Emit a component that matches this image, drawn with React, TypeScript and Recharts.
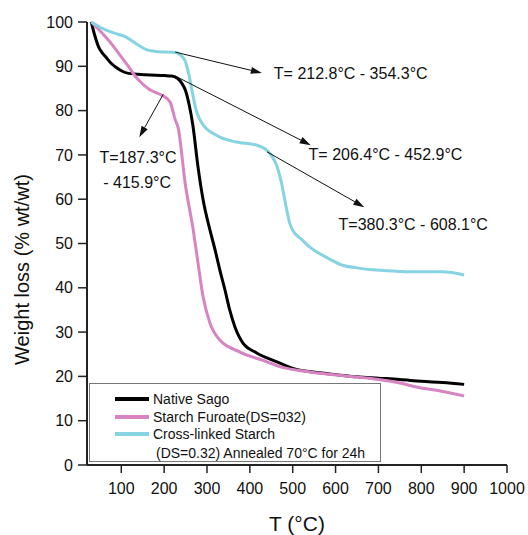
import { LineChart, Line, XAxis, YAxis, ReferenceLine, ReferenceDot, Legend } from "recharts";

const FONT = '"Liberation Sans", Arial, Helvetica, sans-serif';

// temperature (°C) / weight (% wt/wt)
const sagoTemp = [30, 38, 47, 55, 63, 75, 86, 100, 117, 156, 200, 218, 232, 241, 250, 258, 267, 279, 291, 307, 319, 330, 342, 353, 365, 384, 416, 463, 500, 563, 600, 650, 700, 750, 800, 850, 900];
const sagoWeight = [100, 97.0, 94.4, 93.1, 92.2, 90.8, 89.9, 89.0, 88.4, 88.1, 87.9, 87.8, 87.2, 86.2, 84.5, 81.5, 76.7, 67.3, 59.8, 53.0, 48.5, 44.0, 39.5, 35.0, 31.2, 27.5, 25.3, 23.3, 21.8, 20.8, 20.4, 19.9, 19.6, 19.3, 18.9, 18.6, 18.2];

const furoateTemp = [30, 55, 75, 94, 115, 133, 150, 165, 187, 200, 214, 226, 233, 249, 268, 279, 291, 307, 330, 377, 440, 470, 524, 600, 679, 709, 750, 788, 850, 900];
const furoateWeight = [100, 97.5, 95.3, 92.9, 90.2, 87.7, 86.0, 84.8, 83.8, 83.2, 81.9, 77.9, 76.0, 63.6, 53.0, 45.6, 37.9, 32.0, 28.2, 25.5, 23.3, 22.2, 21.2, 20.3, 19.6, 19.2, 18.5, 17.6, 16.6, 15.6];

const crossTemp = [30, 63, 90, 109, 133, 160, 187, 226, 237, 249, 258, 265, 275, 288, 300, 319, 330, 369, 416, 440, 453, 463, 474, 486, 493, 500, 520, 540, 580, 616, 650, 695, 750, 788, 850, 900];
const crossWeight = [100, 98.2, 97.3, 96.7, 95.2, 93.7, 93.3, 93.1, 92.6, 91.2, 88.0, 84.5, 80.0, 77.2, 75.8, 74.6, 74.0, 72.9, 72.2, 71.0, 69.5, 67.5, 63.6, 57.6, 54.6, 53.0, 51.0, 49.2, 46.8, 45.1, 44.5, 44.0, 43.7, 43.6, 43.6, 42.9];

const seriesNames = ["Native Sago", "Starch Furoate(DS=032)", "Cross-linked Starch"];
const seriesColors = ["#000000", "#d884c2", "#86d4e2"];
const legendNote = "(DS=0.32) Annealed 70°C for 24h";

const xMajor = [100, 200, 300, 400, 500, 600, 700, 800, 900, 1000];
const xMinor = [50, 150, 250, 350, 450, 550, 650, 750, 850, 950];
const yMajor = [0, 10, 20, 30, 40, 50, 60, 70, 80, 90, 100];
const yMinor = [5, 15, 25, 35, 45, 55, 65, 75, 85, 95];

// arrows: [tempFrom, weightFrom, tempTo, weightTo]
const arrows = [
  [226, 93.2, 428, 88.5],
  [226, 87.8, 542, 72.2],
  [440, 70.7, 667, 58.2],
  [198, 83.7, 142, 74.0],
];

// annotation text: temp, weight, anchor
const notes: [number, number, "start" | "middle", string][] = [
  [456, 88.3, "start", "T= 212.8°C - 354.3°C"],
  [537, 70.0, "start", "T= 206.4°C - 452.9°C"],
  [607, 54.2, "start", "T=380.3°C - 608.1°C"],
  [139, 69.5, "middle", "T=187.3°C"],
  [137, 63.7, "middle", "- 415.9°C"],
];

const toRows = (t: number[], w: number[]) => t.map((x, i) => ({ t: x, w: w[i] }));
const seriesData = [toRows(sagoTemp, sagoWeight), toRows(furoateTemp, furoateWeight), toRows(crossTemp, crossWeight)];

const AXIS = "#222";

function ArrowShape(props: any) {
  const { x1, y1, x2, y2 } = props;
  const ang = Math.atan2(y2 - y1, x2 - x1);
  const len = 11;
  const half = 3.5;
  const bx = x2 - len * Math.cos(ang);
  const by = y2 - len * Math.sin(ang);
  const px = -Math.sin(ang) * half;
  const py = Math.cos(ang) * half;
  return (
    <g>
      <line x1={x1} y1={y1} x2={bx} y2={by} stroke="#111" strokeWidth={1} />
      <polygon points={`${x2},${y2} ${bx + px},${by + py} ${bx - px},${by - py}`} fill="#111" />
    </g>
  );
}

function YTitle(props: any) {
  const vb = props.viewBox || { x: 0, y: 22, width: 87, height: 443 };
  const cx = vb.x + 22;
  const cy = vb.y + vb.height / 2 + 26;
  return (
    <text x={cx} y={cy} transform={`rotate(-90 ${cx} ${cy})`} textAnchor="middle" dominantBaseline="central"
      fontFamily={FONT} fontSize={20} fill="#111">
      Weight loss (% wt/wt)
    </text>
  );
}

function XTitle(props: any) {
  const vb = props.viewBox || { x: 87, y: 465, width: 420, height: 70 };
  return (
    <text x={vb.x + vb.width / 2} y={vb.y + 66} textAnchor="middle" fontFamily={FONT} fontSize={21} fill="#111">
      T (°C)
    </text>
  );
}

// legend keeps the original order of the series (payload comes sorted)
function LegendBox() {
  const rowY = [15, 33, 50];
  return (
    <div style={{ position: "relative", width: 292, height: 79, boxSizing: "border-box", border: "1.5px solid #777",
      background: "#fff", fontFamily: FONT, fontSize: 14, color: "#111" }}>
      {seriesNames.map((name, i) => (
        <div key={name} style={{ position: "absolute", left: 25, top: rowY[i] - 9, height: 18, display: "flex", alignItems: "center" }}>
          <span style={{ display: "inline-block", width: 34, height: 3.5, background: seriesColors[i], marginRight: 4 }} />
          <span style={{ whiteSpace: "nowrap" }}>{name}</span>
        </div>
      ))}
      <div style={{ position: "absolute", left: 66, top: 60, height: 18, lineHeight: "18px", whiteSpace: "nowrap" }}>{legendNote}</div>
    </div>
  );
}

export default function App() {
  return (
    <div style={{ position: "absolute", left: 0, top: 0, background: "#fff" }}>
      <LineChart width={528} height={535} margin={{ top: 22, right: 21, bottom: 0, left: 0 }}>
        <XAxis xAxisId="minor" type="number" dataKey="t" domain={[20, 1000]} allowDataOverflow ticks={xMinor} interval={0}
          height={0} axisLine={false} tickSize={4} tickLine={{ stroke: AXIS, strokeWidth: 1.5 }} tickFormatter={() => ""} />
        <XAxis type="number" dataKey="t" domain={[20, 1000]} allowDataOverflow ticks={xMajor} interval={0}
          height={70} tickSize={8} tickMargin={10} axisLine={{ stroke: AXIS, strokeWidth: 2 }}
          tickLine={{ stroke: AXIS, strokeWidth: 1.5 }} tick={{ fontSize: 16, fill: "#111", fontFamily: FONT }}
          label={<XTitle />} />
        <XAxis xAxisId="top" orientation="top" type="number" domain={[20, 1000]} height={0} tick={false} tickLine={false}
          axisLine={{ stroke: AXIS, strokeWidth: 2 }} />
        <YAxis yAxisId="minor" type="number" domain={[0, 100]} ticks={yMinor} interval={0} width={0} axisLine={false}
          tickSize={5} tickLine={{ stroke: AXIS, strokeWidth: 1.5 }} tickFormatter={() => ""} />
        <YAxis type="number" domain={[0, 100]} ticks={yMajor} interval={0} width={87} tickSize={9} tickMargin={5}
          axisLine={{ stroke: AXIS, strokeWidth: 2 }} tickLine={{ stroke: AXIS, strokeWidth: 1.5 }}
          tick={{ fontSize: 16, fill: "#111", fontFamily: FONT }} label={<YTitle />} />
        <YAxis yAxisId="right" orientation="right" type="number" domain={[0, 100]} width={0} tick={false} tickLine={false}
          axisLine={{ stroke: AXIS, strokeWidth: 2 }} />

        {seriesData.map((d, i) => (
          <Line key={seriesNames[i]} data={d} dataKey="w" name={seriesNames[i]} type="monotone" stroke={seriesColors[i]}
            strokeWidth={3} dot={false} activeDot={false} isAnimationActive={false} />
        ))}

        {arrows.map((a, i) => (
          <ReferenceLine key={`arrow-${i}`} segment={[{ x: a[0], y: a[1] }, { x: a[2], y: a[3] }]} shape={ArrowShape} />
        ))}
        {notes.map(([t, w, anchor, text]) => (
          <ReferenceDot key={text} x={t} y={w} r={0}
            shape={(p: any) => (
              <text x={p.cx} y={p.cy} textAnchor={anchor} dominantBaseline="central" fontFamily={FONT} fontSize={16} fill="#111">
                {text}
              </text>
            )} />
        ))}

        <Legend layout="vertical" align="center" verticalAlign="middle" content={<LegendBox />}
          wrapperStyle={{ left: 89, top: 383, width: 292, height: 79 }} />
      </LineChart>
    </div>
  );
}
